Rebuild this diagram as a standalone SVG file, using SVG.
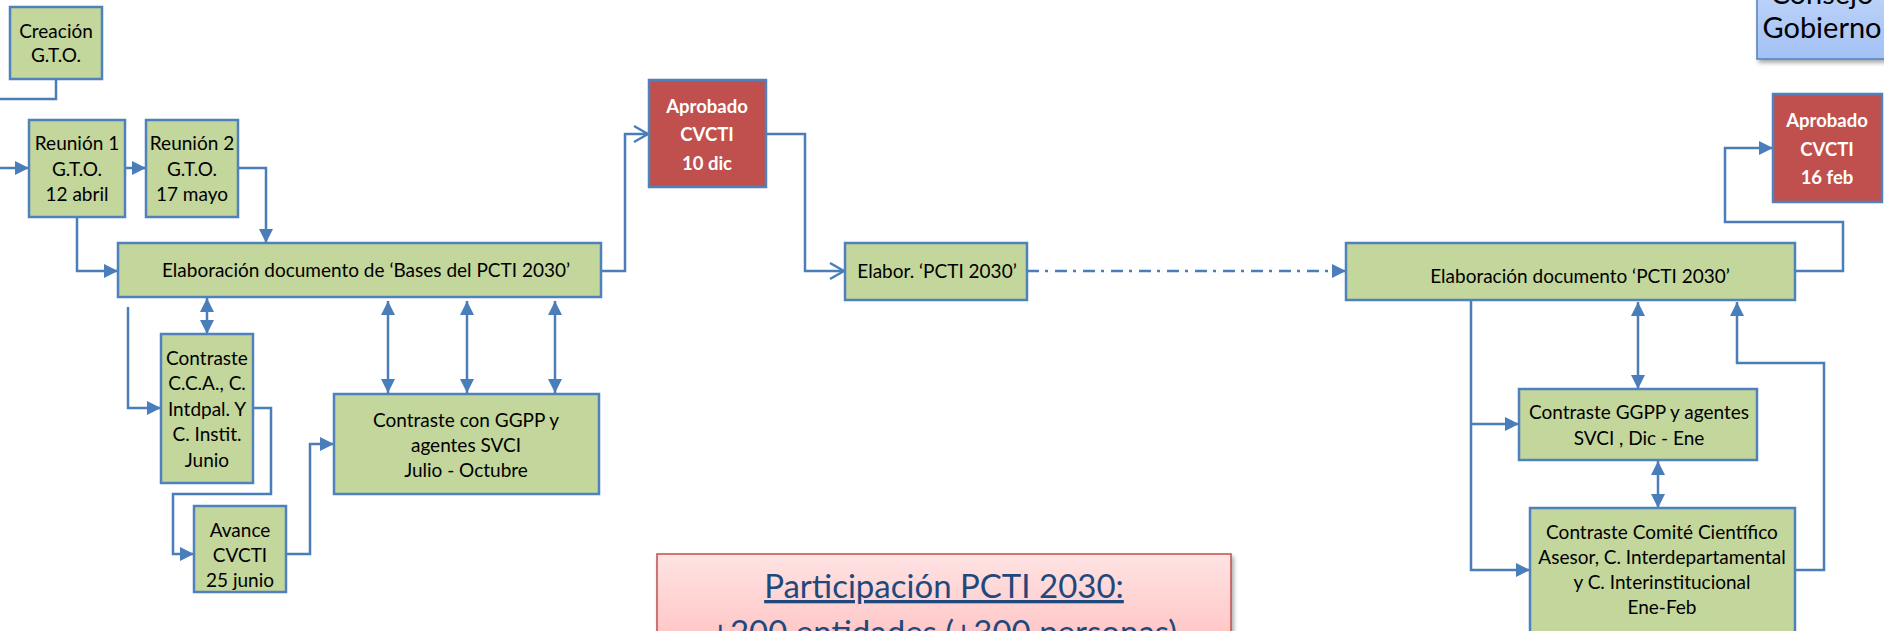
<svg xmlns="http://www.w3.org/2000/svg" width="1884" height="631" viewBox="0 0 1884 631">
<style>
.box{fill:#C3D69B;stroke:#4F81BD;stroke-width:2.5}
.red{fill:#C0504D;stroke:#4F81BD;stroke-width:2.5}
.t{font-family:Lato,"Open Sans","Liberation Sans",sans-serif;font-size:19px;fill:#000;text-anchor:middle}
.tw{font-family:Lato,"Open Sans","Liberation Sans",sans-serif;font-size:18.5px;font-weight:bold;fill:#fff;text-anchor:middle}
.c{fill:none;stroke:#4A7EBB;stroke-width:2.5}
.ma{marker-end:url(#fa)}
.mo{marker-end:url(#oa)}
.dd{marker-start:url(#fs);marker-end:url(#fa)}
</style>
<defs>
<marker id="fa" markerUnits="userSpaceOnUse" markerWidth="16" markerHeight="16" viewBox="0 0 16 16" refX="15" refY="8" orient="auto">
<path d="M1,1 L15,8 L1,15 Z" fill="#4A7EBB"/>
</marker>
<marker id="fs" markerUnits="userSpaceOnUse" markerWidth="16" markerHeight="16" viewBox="0 0 16 16" refX="1" refY="8" orient="auto">
<path d="M15,1 L1,8 L15,15 Z" fill="#4A7EBB"/>
</marker>
<marker id="oa" markerUnits="userSpaceOnUse" markerWidth="18" markerHeight="20" viewBox="0 0 18 20" refX="16" refY="10" orient="auto">
<path d="M2,2 L16,10 L2,18" fill="none" stroke="#4A7EBB" stroke-width="2.5"/>
</marker>
<linearGradient id="gb" x1="0" y1="0" x2="0" y2="1">
<stop offset="0" stop-color="#C9DBFA"/>
<stop offset="1" stop-color="#A3C1F5"/>
</linearGradient>
<linearGradient id="gp" x1="0" y1="0" x2="0" y2="1">
<stop offset="0" stop-color="#FFE3E3"/>
<stop offset="1" stop-color="#FFBDBD"/>
</linearGradient>
<filter id="sh" x="-10%" y="-10%" width="130%" height="140%">
<feDropShadow dx="2" dy="3" stdDeviation="2" flood-color="#000" flood-opacity="0.35"/>
</filter>
</defs>

<g id="connectors">
<path class="c" d="M56,79 V99 H0"/>
<path class="c ma" d="M0,168 H29"/>
<path class="c ma" d="M125,168 H146"/>
<path class="c ma" d="M238,168 H266 V243"/>
<path class="c ma" d="M77,217 V271 H118"/>
<path class="c ma" d="M128,307 V408 H161"/>
<path class="c dd" d="M207,298 V334"/>
<path class="c ma" d="M253,408 H271 V494 H173 V554 H194"/>
<path class="c ma" d="M286,554 H310 V444 H334"/>
<path class="c dd" d="M388,301 V393"/>
<path class="c dd" d="M467,301 V393"/>
<path class="c dd" d="M555,301 V393"/>
<path class="c mo" d="M601,271 H625 V134 H648"/>
<path class="c mo" d="M766,134 H805 V271 H844"/>
<path class="c ma" d="M1027,271 H1346" stroke-dasharray="12 6 3 7"/>
<path class="c ma" d="M1795,271 H1843 V222 H1725 V148 H1773"/>
<path class="c ma" d="M1471,300 V570 H1530"/>
<path class="c ma" d="M1471,424 H1519"/>
<path class="c dd" d="M1638,302 V389"/>
<path class="c dd" d="M1658,461 V508"/>
<path class="c ma" d="M1795,570 H1824 V363 H1737 V302"/>
</g>

<g id="creacion">
<rect class="box" x="10" y="7" width="92" height="72"/>
<text class="t"><tspan x="56" y="38">Creación</tspan><tspan x="56" y="62">G.T.O.</tspan></text>
</g>
<g id="reunion1">
<rect class="box" x="29" y="120" width="96" height="97"/>
<text class="t"><tspan x="77" y="150">Reunión 1</tspan><tspan x="77" y="176">G.T.O.</tspan><tspan x="77" y="201">12 abril</tspan></text>
</g>
<g id="reunion2">
<rect class="box" x="146" y="120" width="92" height="97"/>
<text class="t"><tspan x="192" y="150">Reunión 2</tspan><tspan x="192" y="176">G.T.O.</tspan><tspan x="192" y="201">17 mayo</tspan></text>
</g>
<g id="elab-bases">
<rect class="box" x="118" y="243" width="483" height="54"/>
<text class="t" x="366" y="277">Elaboración documento de ‘Bases del PCTI 2030’</text>
</g>
<g id="contraste-cca">
<rect class="box" x="161" y="334" width="92" height="149"/>
<text class="t"><tspan x="207" y="365">Contraste</tspan><tspan x="207" y="390">C.C.A., C.</tspan><tspan x="207" y="416">Intdpal. Y</tspan><tspan x="207" y="441">C. Instit.</tspan><tspan x="207" y="467">Junio</tspan></text>
</g>
<g id="avance">
<rect class="box" x="194" y="506" width="92" height="86"/>
<text class="t"><tspan x="240" y="537">Avance</tspan><tspan x="240" y="562">CVCTI</tspan><tspan x="240" y="587">25 junio</tspan></text>
</g>
<g id="contraste-ggpp">
<rect class="box" x="334" y="394" width="265" height="100"/>
<text class="t"><tspan x="466" y="427">Contraste con GGPP y</tspan><tspan x="466" y="452">agentes SVCI</tspan><tspan x="466" y="477">Julio - Octubre</tspan></text>
</g>
<g id="aprobado-dic">
<rect class="red" x="649" y="80" width="117" height="107"/>
<text class="tw"><tspan x="707" y="113">Aprobado</tspan><tspan x="707" y="141">CVCTI</tspan><tspan x="707" y="170">10 dic</tspan></text>
</g>
<g id="elabor">
<rect class="box" x="845" y="243" width="182" height="57"/>
<text class="t" x="937" y="278">Elabor. ‘PCTI 2030’</text>
</g>
<g id="participacion">
<rect x="657" y="554" width="574" height="110" fill="url(#gp)" stroke="#C0504D" stroke-width="1.5" filter="url(#sh)"/>
<text font-family="Lato,'Open Sans','Liberation Sans',sans-serif" font-size="33" fill="#1F497D" text-anchor="middle"><tspan x="944" y="598" text-decoration="underline">Participación PCTI 2030:</tspan><tspan x="944" y="644">+200 entidades (+300 personas)</tspan></text>
</g>
<g id="elab-pcti">
<rect class="box" x="1346" y="243" width="449" height="57"/>
<text class="t" x="1580" y="283">Elaboración documento ‘PCTI 2030’</text>
</g>
<g id="contraste-ggpp2">
<rect class="box" x="1519" y="389" width="238" height="71"/>
<text class="t"><tspan x="1639" y="419">Contraste GGPP y agentes</tspan><tspan x="1639" y="445">SVCI , Dic - Ene</tspan></text>
</g>
<g id="comite">
<rect class="box" x="1530" y="508" width="265" height="130"/>
<text class="t"><tspan x="1662" y="539">Contraste Comité Científico</tspan><tspan x="1662" y="564">Asesor, C. Interdepartamental</tspan><tspan x="1662" y="589">y C. Interinstitucional</tspan><tspan x="1662" y="614">Ene-Feb</tspan></text>
</g>
<g id="aprobado-feb">
<rect class="red" x="1773" y="94" width="109" height="108"/>
<text class="tw"><tspan x="1827" y="127">Aprobado</tspan><tspan x="1827" y="156">CVCTI</tspan><tspan x="1827" y="184">16 feb</tspan></text>
</g>
<g id="consejo">
<rect x="1757" y="-40" width="140" height="99" fill="url(#gb)" stroke="#4F81BD" stroke-width="1.5" filter="url(#sh)"/>
<text font-family="Lato,'Open Sans','Liberation Sans',sans-serif" font-size="29" fill="#000" text-anchor="middle"><tspan x="1822" y="4">Consejo</tspan><tspan x="1822" y="38">Gobierno</tspan></text>
</g>
</svg>
